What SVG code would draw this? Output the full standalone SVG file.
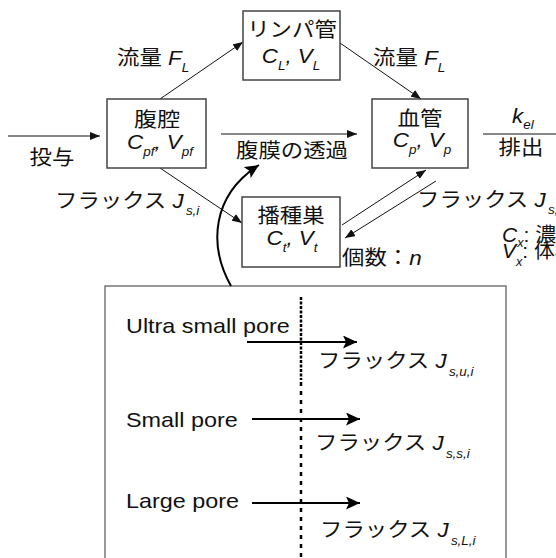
<svg xmlns="http://www.w3.org/2000/svg" width="556" height="558" viewBox="0 0 556 558">
<style>
text{font-family:"Liberation Sans","Noto Sans CJK JP",sans-serif;font-size:20px;fill:#111}
.i{font-style:italic}
.s{font-size:12px;font-style:italic}
.box{fill:#fff;stroke:#444;stroke-width:1.5}
.big{fill:#fff;stroke:#777;stroke-width:1.5}
.ln{fill:none;stroke:#111;stroke-width:1}
.thk{fill:none;stroke:#000;stroke-width:2}
</style>
<defs>
<marker id="a" markerUnits="userSpaceOnUse" markerWidth="10" markerHeight="8" refX="10" refY="4" orient="auto"><path d="M0,0 L10,4 L0,8 z" fill="#111"/></marker>
<marker id="b" markerUnits="userSpaceOnUse" markerWidth="14" markerHeight="13" refX="14" refY="6.5" orient="auto"><path d="M0,0 L14,6.5 L0,13 L3,6.5 z" fill="#000"/></marker>
</defs>
<g id="pore-panel">
<rect class="big" x="105" y="286" width="401" height="290"/>
<line x1="301" y1="297" x2="301" y2="380" stroke="#000" stroke-width="2.5" stroke-dasharray="3,1.5"/>
<line x1="301" y1="382" x2="301" y2="558" stroke="#000" stroke-width="2.5" stroke-dasharray="4,5"/>
<text transform="translate(126,333) scale(1.17,1)">Ultra small pore</text>
<line class="thk" x1="247" y1="342" x2="357" y2="342" marker-end="url(#b)"/>
<text transform="translate(318,368) scale(1.12,1)">フラックス <tspan class="i">J</tspan><tspan class="s" dx="2" dy="8">s,u,i</tspan></text>
<text transform="translate(126,427) scale(1.17,1)">Small pore</text>
<line class="thk" x1="252" y1="419" x2="360" y2="419" marker-end="url(#b)"/>
<text transform="translate(315,450) scale(1.12,1)">フラックス <tspan class="i">J</tspan><tspan class="s" dx="2" dy="8">s,s,i</tspan></text>
<text transform="translate(126,508) scale(1.17,1)">Large pore</text>
<line class="thk" x1="252" y1="503" x2="360" y2="503" marker-end="url(#b)"/>
<text transform="translate(320,537) scale(1.12,1)">フラックス <tspan class="i">J</tspan><tspan class="s" dx="2" dy="8">s,L,i</tspan></text>
</g>
<g id="connectors">
<line class="ln" x1="8" y1="136" x2="100" y2="136" marker-end="url(#a)"/>
<line class="ln" x1="160" y1="99" x2="243" y2="42" marker-end="url(#a)"/>
<line class="ln" x1="340" y1="43" x2="421" y2="99" marker-end="url(#a)"/>
<line class="ln" x1="221" y1="134" x2="357" y2="134" marker-end="url(#a)"/>
<line class="ln" x1="160" y1="168" x2="242" y2="223" marker-end="url(#a)"/>
<line class="ln" x1="342" y1="225" x2="426" y2="170" marker-end="url(#a)"/>
<line class="ln" x1="436" y1="181" x2="345" y2="238" marker-end="url(#a)"/>
<line class="ln" x1="483" y1="134" x2="556" y2="134"/>
<path class="thk" d="M231,286 C208,245 212,195 259,165" marker-end="url(#b)"/>
</g>
<g id="peritoneal">
<rect class="box" x="107" y="99" width="99" height="69"/>
<text transform="translate(157,127) scale(1.15,1)" text-anchor="middle">腹腔</text>
<text class="i" transform="translate(160,149) scale(1.12,1)" text-anchor="middle">C<tspan class="s" dy="7">pf</tspan><tspan dy="-7">, V</tspan><tspan class="s" dy="7">pf</tspan></text>
</g>
<g id="lymph">
<rect class="box" x="243" y="11" width="97" height="69"/>
<text transform="translate(292,37) scale(1.12,1)" text-anchor="middle">リンパ管</text>
<text class="i" transform="translate(291,63) scale(1.12,1)" text-anchor="middle">C<tspan class="s" dy="7">L</tspan><tspan dy="-7">, V</tspan><tspan class="s" dy="7">L</tspan></text>
</g>
<g id="blood">
<rect class="box" x="372" y="99" width="96" height="69"/>
<text transform="translate(420,126) scale(1.12,1)" text-anchor="middle">血管</text>
<text class="i" transform="translate(422,147) scale(1.12,1)" text-anchor="middle">C<tspan class="s" dy="7">p</tspan><tspan dy="-7">, V</tspan><tspan class="s" dy="7">p</tspan></text>
</g>
<g id="tumor">
<rect class="box" x="242" y="197" width="98" height="70"/>
<text transform="translate(291,223) scale(1.12,1)" text-anchor="middle">播種巣</text>
<text class="i" transform="translate(292,245) scale(1.12,1)" text-anchor="middle">C<tspan class="s" dy="7">t</tspan><tspan dy="-7">, V</tspan><tspan class="s" dy="7">t</tspan></text>
</g>
<g id="labels">
<text transform="translate(117,65) scale(1.12,1)">流量 <tspan class="i">F</tspan><tspan class="s" dy="7">L</tspan></text>
<text transform="translate(373,65) scale(1.12,1)">流量 <tspan class="i">F</tspan><tspan class="s" dy="7">L</tspan></text>
<text transform="translate(52,165) scale(1.12,1)" text-anchor="middle">投与</text>
<text transform="translate(292,158) scale(1.12,1)" text-anchor="middle">腹膜の透過</text>
<text transform="translate(512,123) scale(1.12,1)"><tspan class="i">k</tspan><tspan class="s" dy="6">el</tspan></text>
<text transform="translate(521,155) scale(1.12,1)" text-anchor="middle">排出</text>
<text transform="translate(55,208) scale(1.12,1)">フラックス <tspan class="i">J</tspan><tspan class="s" dx="2" dy="7">s,i</tspan></text>
<text transform="translate(417,207) scale(1.12,1)">フラックス <tspan class="i">J</tspan><tspan class="s" dx="2" dy="7">s,i</tspan></text>
<text transform="translate(342,265) scale(1.12,1)">個数：<tspan class="i">n</tspan></text>
<text transform="translate(502,242) scale(1.05,1)"><tspan class="i">C</tspan><tspan class="s" dy="5">x</tspan><tspan dy="-5">: 濃度</tspan></text>
<text transform="translate(502,258) scale(1.05,1)"><tspan class="i">V</tspan><tspan class="s" dy="8">x</tspan><tspan dy="-8">: 体積</tspan></text>
</g>
</svg>
